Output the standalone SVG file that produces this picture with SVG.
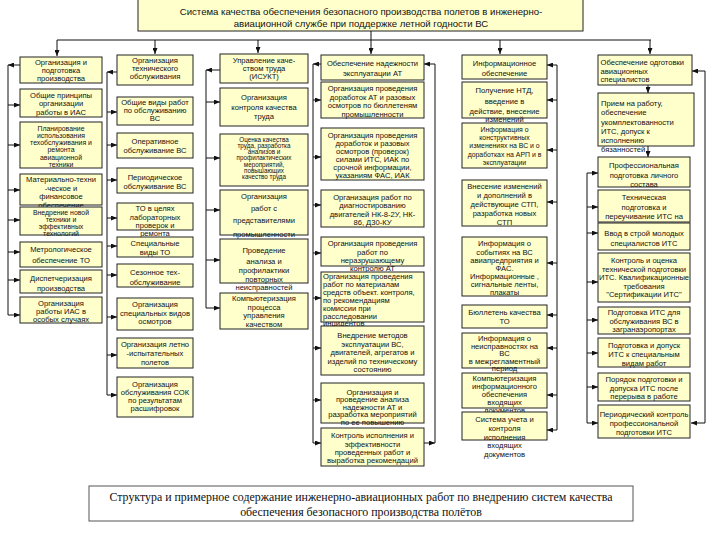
<svg xmlns="http://www.w3.org/2000/svg" width="720" height="540" viewBox="0 0 720 540">
<style>
.b{fill:#ffffcc;stroke:#222;stroke-width:1}
.t{font-family:"Liberation Sans",Arial,sans-serif;font-size:7.6px;fill:#111;text-anchor:middle}
.s{font-size:6.9px}
.xs{font-size:6.3px}
.l{text-anchor:start}
.c{stroke:#111;stroke-width:1;fill:none}
.a{marker-end:url(#ah)}
.ttl{font-family:"Liberation Sans",Arial,sans-serif;font-size:9.6px;fill:#111;text-anchor:middle}
.cap{font-family:"Liberation Serif","Times New Roman",serif;font-size:11.9px;fill:#111;text-anchor:middle}
</style>
<defs>
<marker id="ah" viewBox="0 0 6 5" refX="6" refY="2.5" markerWidth="6" markerHeight="5" markerUnits="userSpaceOnUse" orient="auto"><path d="M0,0L6,2.5L0,5z" fill="#111"/></marker>
</defs>
<rect width="720" height="540" fill="#fff"/>

<g id="title">
<rect class="b" x="138" y="-1" width="445" height="32"/>
<text class="ttl"><tspan x="361" y="15">Система качества обеспечения безопасного производства полетов в инженерно-</tspan><tspan x="361" y="26.5">авиационной службе при  поддержке летной годности ВС</tspan></text>
</g>

<g id="connectors">
<path class="c" d="M57,40H651M371,31V40"/>
<path class="c a" d="M57,40V56"/><path class="c a" d="M155,40V54"/><path class="c a" d="M258,40V53"/><path class="c a" d="M371,40V54"/><path class="c a" d="M500,40V54"/><path class="c a" d="M650,40V54"/>
<path class="c a" d="M20,65H8"/><path class="c" d="M8,65V315"/>
<path class="c a" d="M8,105H20"/><path class="c a" d="M8,145H20"/><path class="c a" d="M8,190H20"/><path class="c a" d="M8,220H20"/><path class="c a" d="M8,252H20"/><path class="c a" d="M8,280H20"/><path class="c a" d="M8,315H20"/>
<path class="c a" d="M117,72H107"/><path class="c" d="M107,72V395"/>
<path class="c a" d="M107,112H117"/><path class="c a" d="M107,145H117"/><path class="c a" d="M107,180H117"/><path class="c a" d="M107,218H117"/><path class="c a" d="M107,246H117"/><path class="c a" d="M107,275H117"/><path class="c a" d="M107,317H117"/><path class="c a" d="M107,355H117"/><path class="c a" d="M107,395H117"/>
<path class="c a" d="M220,70H206"/><path class="c" d="M206,70V308"/>
<path class="c a" d="M206,102H220"/><path class="c a" d="M206,158H220"/><path class="c a" d="M206,210H220"/><path class="c a" d="M206,260H220"/><path class="c a" d="M206,308H220"/>
<path class="c a" d="M321,64H313"/><path class="c" d="M313,64V443"/>
<path class="c a" d="M313,100H321"/><path class="c a" d="M313,157H321"/><path class="c a" d="M313,205H321"/><path class="c a" d="M313,253H321"/><path class="c a" d="M313,298H321"/><path class="c a" d="M313,348H321"/><path class="c a" d="M313,400H321"/><path class="c a" d="M313,443H321"/>
<path class="c a" d="M424,443H435"/><path class="c" d="M435,443V64"/><path class="c a" d="M435,64H424"/>
<path class="c" d="M557,65V430"/>
<path class="c a" d="M557,65H547"/><path class="c a" d="M557,100H547"/><path class="c a" d="M557,150H547"/><path class="c a" d="M557,202H547"/><path class="c a" d="M557,263H547"/><path class="c a" d="M557,315H547"/><path class="c a" d="M557,348H547"/><path class="c a" d="M557,395H547"/><path class="c a" d="M557,430H547"/>
<path class="c a" d="M648,85V93"/><path class="c a" d="M648,146V157"/>
<path class="c" d="M587,173V423"/>
<path class="c a" d="M587,173H598"/><path class="c a" d="M587,207H598"/><path class="c a" d="M587,233H598"/><path class="c a" d="M587,282H598"/><path class="c a" d="M587,320H598"/><path class="c a" d="M587,353H598"/><path class="c a" d="M587,387H598"/><path class="c a" d="M587,423H598"/>
<path class="c" d="M705,71V423"/><path class="c a" d="M705,71H692"/><path class="c a" d="M705,423H691"/>
</g>

<g id="c1h"><rect class="b" x="20" y="57" width="82" height="26"/><text class="t"><tspan x="61" y="64.5">Организация и</tspan><tspan x="61" y="72.5">подготовка</tspan><tspan x="61" y="80.5">производства</tspan></text></g>
<g id="c1b1"><rect class="b" x="20" y="89" width="82" height="28"/><text class="t"><tspan x="61" y="97.5">Общие принципы</tspan><tspan x="61" y="106">организации</tspan><tspan x="61" y="114.5">работы в ИАС</tspan></text></g>
<g id="c1b2"><rect class="b" x="20" y="122" width="82" height="46"/><text class="t s"><tspan x="61" y="130.5">Планирование</tspan><tspan x="61" y="137.7">использования</tspan><tspan x="61" y="145">техобслуживания и</tspan><tspan x="61" y="152.3">ремонта</tspan><tspan x="61" y="159.6">авиационной</tspan><tspan x="61" y="166.8">техники</tspan></text></g>
<g id="c1b3"><rect class="b" x="20" y="174" width="82" height="31"/><text class="t"><tspan x="61" y="182">Материально-техни</tspan><tspan x="61" y="190.5">-ческое и</tspan><tspan x="61" y="199">финансовое</tspan><tspan x="61" y="207.5">обеспечение</tspan></text></g>
<g id="c1b4"><rect class="b" x="20" y="207" width="82" height="28"/><text class="t s"><tspan x="61" y="215">Внедрение новой</tspan><tspan x="61" y="222">техники и</tspan><tspan x="61" y="229">эффективных</tspan><tspan x="61" y="236">технологий</tspan></text></g>
<g id="c1b5"><rect class="b" x="20" y="242" width="82" height="25"/><text class="t"><tspan x="61" y="252">Метрологическое</tspan><tspan x="61" y="263">обеспечение ТО</tspan></text></g>
<g id="c1b6"><rect class="b" x="20" y="270" width="82" height="23"/><text class="t"><tspan x="61" y="281">Диспетчеризация</tspan><tspan x="61" y="291">производства</tspan></text></g>
<g id="c1b7"><rect class="b" x="20" y="297" width="82" height="26"/><text class="t"><tspan x="61" y="306">Организация</tspan><tspan x="61" y="314">работы ИАС в</tspan><tspan x="61" y="321.5">особых случаях</tspan></text></g>

<g id="c2h"><rect class="b" x="117" y="55" width="76" height="30"/><text class="t"><tspan x="155" y="63">Организация</tspan><tspan x="155" y="71">технического</tspan><tspan x="155" y="79">обслуживания</tspan></text></g>
<g id="c2b1"><rect class="b" x="117" y="97" width="76" height="28"/><text class="t"><tspan x="155" y="105">Общие виды работ</tspan><tspan x="155" y="113">по обслуживанию</tspan><tspan x="155" y="121">ВС</tspan></text></g>
<g id="c2b2"><rect class="b" x="117" y="133" width="76" height="25"/><text class="t"><tspan x="155" y="144">Оперативное</tspan><tspan x="155" y="152.5">обслуживание ВС</tspan></text></g>
<g id="c2b3"><rect class="b" x="117" y="168" width="76" height="25"/><text class="t"><tspan x="155" y="180">Периодическое</tspan><tspan x="155" y="189">обслуживание ВС</tspan></text></g>
<g id="c2b4"><rect class="b" x="117" y="203" width="76" height="27"/><text class="t"><tspan x="155" y="211">ТО в целях</tspan><tspan x="155" y="219.5">лабораторных</tspan><tspan x="155" y="227.5">проверок и</tspan><tspan x="155" y="235.5">ремонта</tspan></text></g>
<g id="c2b5"><rect class="b" x="117" y="237" width="76" height="20"/><text class="t"><tspan x="155" y="245.5">Специальные</tspan><tspan x="155" y="254.5">виды ТО</tspan></text></g>
<g id="c2b6"><rect class="b" x="117" y="264" width="76" height="23"/><text class="t"><tspan x="155" y="275">Сезонное тех-</tspan><tspan x="155" y="285">обслуживание</tspan></text></g>
<g id="c2b7"><rect class="b" x="117" y="298" width="76" height="32"/><text class="t"><tspan x="155" y="307">Организация</tspan><tspan x="155" y="315.5">специальных видов</tspan><tspan x="155" y="324">осмотров</tspan></text></g>
<g id="c2b8"><rect class="b" x="117" y="338" width="76" height="30"/><text class="t"><tspan x="155" y="347">Организация летно</tspan><tspan x="155" y="356">-испытательных</tspan><tspan x="155" y="364.5">полетов</tspan></text></g>
<g id="c2b9"><rect class="b" x="117" y="377" width="76" height="40"/><text class="t"><tspan x="155" y="387">Организация</tspan><tspan x="155" y="395">обслуживания СОК</tspan><tspan x="155" y="403">по результатам</tspan><tspan x="155" y="411">расшифровок</tspan></text></g>

<g id="c3h"><rect class="b" x="220" y="54" width="88" height="29"/><text class="t"><tspan x="264" y="63">Управление каче-</tspan><tspan x="264" y="71">ством труда</tspan><tspan x="264" y="79">(ИСУКТ)</tspan></text></g>
<g id="c3b1"><rect class="b" x="220" y="88" width="88" height="38"/><text class="t"><tspan x="264" y="100">Организация</tspan><tspan x="264" y="110">контроля качества</tspan><tspan x="264" y="119">труда</tspan></text></g>
<g id="c3b2"><rect class="b" x="220" y="134" width="88" height="52"/><text class="t xs"><tspan x="264" y="141.5">Оценка качества</tspan><tspan x="264" y="147.8">труда, разработка</tspan><tspan x="264" y="154.1">анализов и</tspan><tspan x="264" y="160.4">профилактических</tspan><tspan x="264" y="166.7">мероприятий,</tspan><tspan x="264" y="173">повышающих</tspan><tspan x="264" y="179.3">качество труда</tspan></text></g>
<g id="c3b3"><rect class="b" x="220" y="190" width="88" height="45"/><text class="t"><tspan x="264" y="199">Организация</tspan><tspan x="264" y="211">работ с</tspan><tspan x="264" y="223">представителями</tspan><tspan x="264" y="237">промышленности</tspan></text></g>
<g id="c3b4"><rect class="b" x="220" y="239" width="88" height="44"/><text class="t"><tspan x="264" y="253">Проведение</tspan><tspan x="264" y="263.5">анализа и</tspan><tspan x="264" y="273">профилактики</tspan><tspan x="264" y="282">повторных</tspan><tspan x="264" y="290">неисправностей</tspan></text></g>
<g id="c3b5"><rect class="b" x="220" y="293" width="88" height="36"/><text class="t"><tspan x="264" y="301">Компьютеризация</tspan><tspan x="264" y="309.5">процесса</tspan><tspan x="264" y="318">управления</tspan><tspan x="264" y="327">качеством</tspan></text></g>

<g id="c4h"><rect class="b" x="321" y="55" width="103" height="25"/><text class="t"><tspan x="372.5" y="65.5">Обеспечение надежности</tspan><tspan x="372.5" y="75.5">эксплуатации АТ</tspan></text></g>
<g id="c4b1"><rect class="b" x="321" y="82" width="103" height="36"/><text class="t"><tspan x="372.5" y="91">Организация проведения</tspan><tspan x="372.5" y="99.5">доработок АТ и разовых</tspan><tspan x="372.5" y="108">осмотров по бюллетеням</tspan><tspan x="372.5" y="116.5">промышленности</tspan></text></g>
<g id="c4b2"><rect class="b" x="321" y="128" width="103" height="52"/><text class="t"><tspan x="372.5" y="137.5">Организация проведения</tspan><tspan x="372.5" y="145.5">доработок и разовых</tspan><tspan x="372.5" y="153.5">осмотров (проверок)</tspan><tspan x="372.5" y="161.5">силами ИТС, ИАК по</tspan><tspan x="372.5" y="169.5">срочной информации,</tspan><tspan x="372.5" y="177.5">указаниям ФАС, ИАК</tspan></text></g>
<g id="c4b3"><rect class="b" x="321" y="190" width="103" height="37"/><text class="t"><tspan x="372.5" y="200">Организация работ по</tspan><tspan x="372.5" y="208">диагностированию</tspan><tspan x="372.5" y="216.5">двигателей НК-8-2У, НК-</tspan><tspan x="372.5" y="225">86, Д30-КУ</tspan></text></g>
<g id="c4b4"><rect class="b" x="321" y="237" width="103" height="29"/><text class="t"><tspan x="372.5" y="246">Организация проведения</tspan><tspan x="372.5" y="254.5">работ по</tspan><tspan x="372.5" y="262.5">неразрушающему</tspan><tspan x="372.5" y="270.5">контролю АТ</tspan></text></g>
<g id="c4b5"><rect class="b" x="321" y="272" width="103" height="50"/><text class="t l"><tspan x="323" y="279">Организация проведения</tspan><tspan x="323" y="287">работ по материалам</tspan><tspan x="323" y="295">средств объект. контроля,</tspan><tspan x="323" y="303">по рекомендациям</tspan><tspan x="323" y="311">комиссии при</tspan><tspan x="323" y="318.5">расследовании</tspan><tspan x="323" y="326">инцидентов</tspan></text></g>
<g id="c4b6"><rect class="b" x="321" y="326" width="103" height="49"/><text class="t"><tspan x="372.5" y="338">Внедрение методов</tspan><tspan x="372.5" y="346.5">эксплуатации ВС,</tspan><tspan x="372.5" y="355">двигателей, агрегатов и</tspan><tspan x="372.5" y="363.5">изделий по техническому</tspan><tspan x="372.5" y="371.5">состоянию</tspan></text></g>
<g id="c4b7"><rect class="b" x="321" y="383" width="103" height="40"/><text class="t"><tspan x="372.5" y="394.5">Организация и</tspan><tspan x="372.5" y="402">проведение анализа</tspan><tspan x="372.5" y="409.5">надежности АТ и</tspan><tspan x="372.5" y="417">разработка мероприятий</tspan><tspan x="372.5" y="425">по ее повышению</tspan></text></g>
<g id="c4b8"><rect class="b" x="321" y="428" width="103" height="38"/><text class="t"><tspan x="372.5" y="438">Контроль исполнения и</tspan><tspan x="372.5" y="446.5">эффективности</tspan><tspan x="372.5" y="455">проведенных работ и</tspan><tspan x="372.5" y="463">выработка рекомендаций</tspan></text></g>

<g id="c5h"><rect class="b" x="462" y="55" width="85" height="24"/><text class="t"><tspan x="504.5" y="66">Информационное</tspan><tspan x="504.5" y="75.5">обеспечение</tspan></text></g>
<g id="c5b1"><rect class="b" x="462" y="82" width="85" height="36"/><text class="t"><tspan x="504.5" y="93">Получение НТД,</tspan><tspan x="504.5" y="103.5">введение в</tspan><tspan x="504.5" y="113.5">действие, внесение</tspan><tspan x="504.5" y="122">изменений</tspan></text></g>
<g id="c5b2"><rect class="b" x="462" y="123" width="85" height="45"/><text class="t s"><tspan x="504.5" y="131.5">Информация о</tspan><tspan x="504.5" y="140">конструктивных</tspan><tspan x="504.5" y="148">изменениях на ВС и о</tspan><tspan x="504.5" y="156.5">доработках на АРП и в</tspan><tspan x="504.5" y="165">эксплуатации</tspan></text></g>
<g id="c5b3"><rect class="b" x="462" y="180" width="85" height="46"/><text class="t"><tspan x="504.5" y="189">Внесение изменений</tspan><tspan x="504.5" y="198">и дополнений в</tspan><tspan x="504.5" y="207">действующие СТП,</tspan><tspan x="504.5" y="216">разработка новых</tspan><tspan x="504.5" y="225">СТП</tspan></text></g>
<g id="c5b4"><rect class="b" x="462" y="237" width="85" height="59"/><text class="t"><tspan x="504.5" y="246">Информация о</tspan><tspan x="504.5" y="254.5">событиях на  ВС</tspan><tspan x="504.5" y="263">авиапредприятия и</tspan><tspan x="504.5" y="271">ФАС.</tspan><tspan x="504.5" y="279">Информационные ,</tspan><tspan x="504.5" y="287">сигнальные ленты,</tspan><tspan x="504.5" y="295">плакаты</tspan></text></g>
<g id="c5b5"><rect class="b" x="462" y="305" width="85" height="23"/><text class="t"><tspan x="504.5" y="315">Бюллетень качества</tspan><tspan x="504.5" y="323.5">ТО</tspan></text></g>
<g id="c5b6"><rect class="b" x="462" y="333" width="85" height="35"/><text class="t"><tspan x="504.5" y="341">Информация о</tspan><tspan x="504.5" y="348.5">неисправностях на</tspan><tspan x="504.5" y="356">ВС</tspan><tspan x="504.5" y="363.5">в межрегламентный</tspan><tspan x="504.5" y="371">период</tspan></text></g>
<g id="c5b7"><rect class="b" x="462" y="373" width="85" height="35"/><text class="t"><tspan x="504.5" y="381">Компьютеризация</tspan><tspan x="504.5" y="389">информационного</tspan><tspan x="504.5" y="397">обеспечения</tspan><tspan x="504.5" y="405">входящих</tspan><tspan x="504.5" y="413">документов</tspan></text></g>
<g id="c5b8"><rect class="b" x="462" y="412" width="85" height="28"/><text class="t"><tspan x="504.5" y="422">Система учета и</tspan><tspan x="504.5" y="431">контроля</tspan><tspan x="504.5" y="439.5">исполнения</tspan><tspan x="504.5" y="448">входящих</tspan><tspan x="504.5" y="456.5">документов</tspan></text></g>

<g id="c6h"><rect class="b" x="598" y="55" width="94" height="30"/><text class="t l"><tspan x="600.5" y="65">Обеспечение одготовки</tspan><tspan x="600.5" y="73.5">авиационных</tspan><tspan x="600.5" y="82">специалистов</tspan></text></g>
<g id="c6b1"><rect class="b" x="598" y="93" width="96" height="53"/><text class="t l"><tspan x="601" y="106">Прием на работу,</tspan><tspan x="601" y="115">обеспечение</tspan><tspan x="601" y="125">укомплектованности</tspan><tspan x="601" y="134">ИТС, допуск к</tspan><tspan x="601" y="143">исполнению</tspan><tspan x="601" y="152">бязанностей</tspan></text></g>
<g id="c6b2"><rect class="b" x="598" y="157" width="92" height="30"/><text class="t"><tspan x="644" y="168">Профессиональная</tspan><tspan x="644" y="178">подготовка личного</tspan><tspan x="644" y="186.5">состава</tspan></text></g>
<g id="c6b3"><rect class="b" x="598" y="190" width="92" height="32"/><text class="t"><tspan x="644" y="200">Техническая</tspan><tspan x="644" y="210">подготовка и</tspan><tspan x="644" y="219">переучивание ИТС на</tspan></text></g>
<g id="c6b4"><rect class="b" x="598" y="223" width="92" height="27"/><text class="t"><tspan x="644" y="236">Ввод в строй молодых</tspan><tspan x="644" y="246">специалистов ИТС</tspan></text></g>
<g id="c6b5"><rect class="b" x="598" y="253" width="92" height="49"/><text class="t"><tspan x="644" y="263">Контроль и оценка</tspan><tspan x="644" y="271.5">технической подготовки</tspan><tspan x="644" y="280">ИТС. Квалификационные</tspan><tspan x="644" y="288.5">требования</tspan><tspan x="644" y="297">"Сертификации ИТС"</tspan></text></g>
<g id="c6b6"><rect class="b" x="598" y="307" width="92" height="27"/><text class="t"><tspan x="644" y="315">Подготовка ИТС для</tspan><tspan x="644" y="323.5">обслуживания ВС в</tspan><tspan x="644" y="332">загранаэропортах</tspan></text></g>
<g id="c6b7"><rect class="b" x="598" y="338" width="92" height="29"/><text class="t"><tspan x="644" y="348">Подготовка и допуск</tspan><tspan x="644" y="356.5">ИТС к специальным</tspan><tspan x="644" y="365.5">видам работ</tspan></text></g>
<g id="c6b8"><rect class="b" x="598" y="373" width="92" height="28"/><text class="t"><tspan x="644" y="382">Порядок подготовки и</tspan><tspan x="644" y="390.5">допуска ИТС после</tspan><tspan x="644" y="399">перерыва в работе</tspan></text></g>
<g id="c6b9"><rect class="b" x="598" y="405" width="92" height="33"/><text class="t"><tspan x="644" y="417">Периодический контроль</tspan><tspan x="644" y="426">профессиональной</tspan><tspan x="644" y="435">подготовки ИТС</tspan></text></g>

<g id="caption">
<rect x="89" y="486" width="544" height="35" fill="#fff" stroke="#555" stroke-width="1"/>
<text class="cap"><tspan x="361" y="501">Структура и примерное содержание инженерно-авиационных работ по внедрению систем качества</tspan><tspan x="361" y="516">обеспечения безопасного производства полётов</tspan></text>
</g>
</svg>
